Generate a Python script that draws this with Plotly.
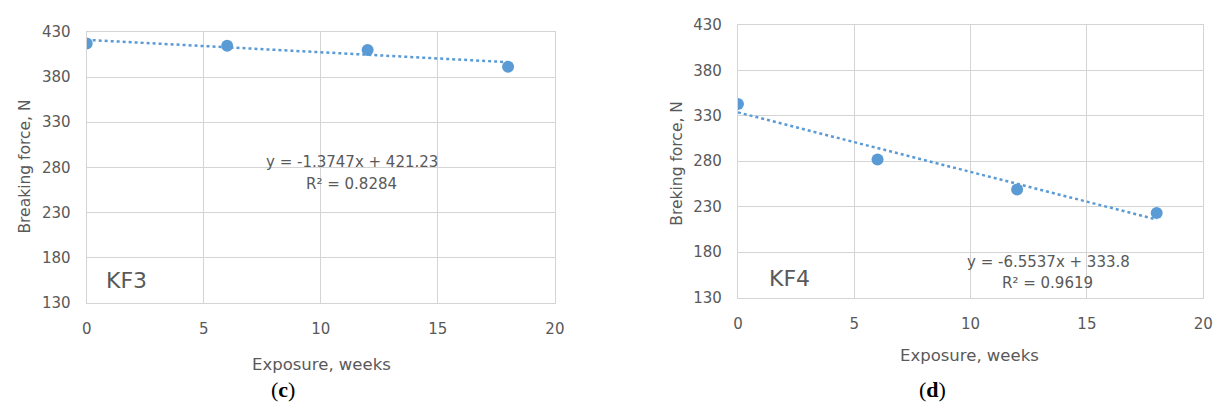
import plotly.graph_objects as go

# ---- data ----
weeks = [0, 6, 12, 18]
kf3_force = [417.3, 414.8, 409.9, 391.5]
kf4_force = [343.1, 282.0, 249.0, 223.0]

kf3_slope, kf3_intercept, kf3_r2 = -1.3747, 421.23, 0.8284
kf4_slope, kf4_intercept, kf4_r2 = -6.5537, 333.8, 0.9619

x_ticks = [0, 5, 10, 15, 20]
y_ticks = [130, 180, 230, 280, 330, 380, 430]

BLUE = "#5B9BD5"
GRAY = "#595959"
GRID = "#d4d4d4"
FONT = "DejaVu Sans"
W, H = 1231, 412

trend_x = [weeks[0], weeks[-1]]

fig = go.Figure()

for i, (force, slope, icpt) in enumerate([(kf3_force, kf3_slope, kf3_intercept),
                                           (kf4_force, kf4_slope, kf4_intercept)]):
    xa = "x" if i == 0 else "x2"
    ya = "y" if i == 0 else "y2"
    fig.add_trace(go.Scatter(
        x=trend_x, y=[slope * t + icpt for t in trend_x], xaxis=xa, yaxis=ya,
        mode="lines", line=dict(color=BLUE, width=2.5, dash="dot"),
        showlegend=False, hoverinfo="skip"))
    fig.add_trace(go.Scatter(
        x=weeks, y=force, xaxis=xa, yaxis=ya, mode="markers",
        marker=dict(color=BLUE, size=12), showlegend=False))

# plot-area positions in pixels (left, right, top, bottom)
boxes = [(82.7, 556.7, 24.0, 307.0), (742.0, 1213.0, 16.7, 301.7)]

def xdom(b):
    return [b[0] / W, b[1] / W]

def ydom(b):
    return [1 - b[3] / H, 1 - b[2] / H]

axis_common = dict(
    showgrid=True, gridcolor=GRID, gridwidth=1.3,
    showline=True, linecolor=GRID, linewidth=1.3, mirror=True,
    zeroline=False, ticks="", tickfont=dict(family=FONT, size=15, color=GRAY),
)

fig.update_layout(
    width=W, height=H,
    margin=dict(l=0, r=0, t=0, b=0),
    paper_bgcolor="white", plot_bgcolor="white",
    showlegend=False,
    xaxis=dict(domain=xdom(boxes[0]), range=[0, 20], tickvals=x_ticks,
               anchor="y", ticklabelstandoff=12, **axis_common),
    yaxis=dict(domain=ydom(boxes[0]), range=[130, 430], tickvals=y_ticks,
               anchor="x", ticklabelstandoff=12, **axis_common),
    xaxis2=dict(domain=xdom(boxes[1]), range=[0, 20], tickvals=x_ticks,
                anchor="y2", ticklabelstandoff=12, **axis_common),
    yaxis2=dict(domain=ydom(boxes[1]), range=[130, 430], tickvals=y_ticks,
                anchor="x2", ticklabelstandoff=12, **axis_common),
)

ann = []
txt = dict(family=FONT, size=15, color=GRAY)
C = dict(xanchor="center", yanchor="middle", showarrow=False)
# equations (data coordinates)
ann.append(dict(x=11.35, y=285.8, xref="x", yref="y",
                text=f"y = {kf3_slope}x + {kf3_intercept}", font=txt, **C))
ann.append(dict(x=11.32, y=261.8, xref="x", yref="y",
                text=f"R² = {kf3_r2}", font=txt, **C))
ann.append(dict(x=13.33, y=169.4, xref="x2", yref="y2",
                text=f"y = {kf4_slope}x + {kf4_intercept}", font=txt, **C))
ann.append(dict(x=13.29, y=145.8, xref="x2", yref="y2",
                text=f"R² = {kf4_r2}", font=txt, **C))
# sample labels
ann.append(dict(x=1.68, y=154.4, xref="x", yref="y", text="KF3",
                font=dict(family=FONT, size=22, color=GRAY), **C))
ann.append(dict(x=2.23, y=151.0, xref="x2", yref="y2", text="KF4",
                font=dict(family=FONT, size=22, color=GRAY), **C))

def px(xp, yp):
    return xp / W, 1 - yp / H

# axis titles
for (xp, yp), t in [((320, 372), "Exposure, weeks"), ((976, 362), "Exposure, weeks")]:
    x, y = px(xp, yp)
    ann.append(dict(x=x, y=y, xref="paper", yref="paper", text=t,
                    font=dict(family=FONT, size=16.5, color=GRAY), **C))
for (xp, yp), t in [((20, 165), "Breaking force, N"), ((680, 161), "Breking force, N")]:
    x, y = px(xp, yp)
    ann.append(dict(x=x, y=y, xref="paper", yref="paper", text=t,
                    textangle=-90, font=dict(family=FONT, size=15.5, color=GRAY), **C))
# captions
for (xp, yp), t in [((281, 397.5), "(<b>c</b>)"), ((939, 398), "(<b>d</b>)")]:
    x, y = px(xp, yp)
    ann.append(dict(x=x, y=y, xref="paper", yref="paper", text=t,
                    font=dict(family="Liberation Serif", size=22, color="black"), **C))

fig.update_layout(annotations=ann)
fig.write_html("out.html")
